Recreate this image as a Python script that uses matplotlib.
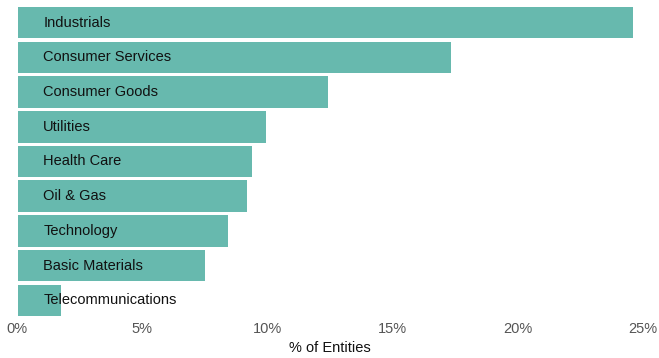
import matplotlib.pyplot as plt
import numpy as np

plt.rcParams['font.family'] = ['Liberation Sans', 'DejaVu Sans']

sectors = ['Industrials', 'Consumer Services', 'Consumer Goods', 'Utilities',
           'Health Care', 'Oil & Gas', 'Technology', 'Basic Materials',
           'Telecommunications']
share = [24.55, 17.28, 12.4, 9.92, 9.33, 9.13, 8.4, 7.48, 1.7]
ticks = [0, 5, 10, 15, 20, 25]

fig = plt.figure(figsize=(6.59, 3.58), dpi=100)
ax = fig.add_axes([17 / 659, 42 / 358, 626 / 659, 309 / 358])

w = 0.905
y = np.arange(len(sectors))
ax.barh(y, share, height=w, color='#67b9ae', left=0.04)
for yi, name in zip(y, sectors):
    ax.text(1.05, yi, name, va='center', ha='left', fontsize=10.5, color='#111111')

ax.set_xlim(0, 25)
ax.set_ylim(len(sectors) - 1 + w / 2, -w / 2)
ax.set_xticks(ticks)
ax.set_xticklabels([f'{t}%' for t in ticks])
ax.set_yticks([])
ax.tick_params(axis='x', length=0, pad=4.5, labelsize=10.5, labelcolor='#555555')
for s in ax.spines.values():
    s.set_visible(False)
ax.set_xlabel('% of Entities', fontsize=10.5, color='#111111', labelpad=3.5)

fig.savefig('out.png', dpi=100, facecolor='white')
